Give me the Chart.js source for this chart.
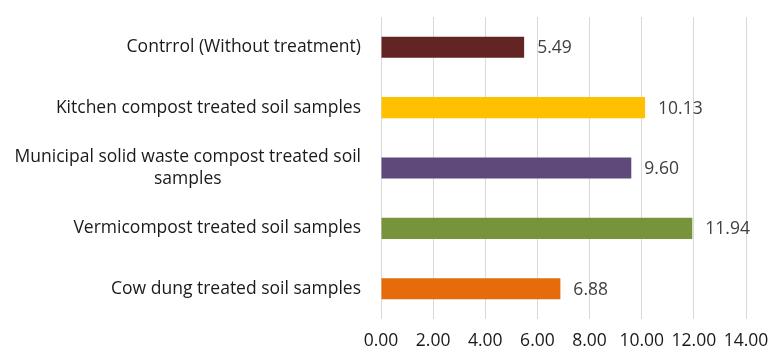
<!DOCTYPE html>
<html>
<head>
<meta charset="utf-8">
<script src="https://cdn.jsdelivr.net/npm/chart.js@4/dist/chart.umd.min.js"></script>
<style>
  html, body { margin: 0; padding: 0; background: #fff; }
  #wrap { width: 770px; height: 352px; position: relative; }
</style>
</head>
<body>
<div id="wrap"><canvas id="c"></canvas></div>
<script>
const categories = [
  'Contrrol (Without treatment)',
  'Kitchen compost treated soil samples',
  ['Municipal solid waste compost treated soil', 'samples'],
  'Vermicompost treated soil samples',
  'Cow dung treated soil samples',
];
const values = [5.49, 10.13, 9.60, 11.94, 6.88];
const barColors = ['#632523', '#FFC000', '#5F497A', '#77933C', '#E46C0A'];
const xTicks = [0, 2, 4, 6, 8, 10, 12, 14];

const FONT = '"Open Sans", Lato, sans-serif';
const FSIZE = 17.5;
const TEXT = '#404040';

// category labels: each wrapped block is centred on itself, block right-aligned to the axis
const catLabels = {
  id: 'catLabels',
  afterDraw(chart) {
    const { ctx, chartArea, scales: { y } } = chart;
    ctx.save();
    ctx.font = FSIZE + 'px ' + FONT;
    ctx.fillStyle = '#1a1a1a';
    ctx.textAlign = 'center';
    ctx.textBaseline = 'middle';
    categories.forEach((lab, i) => {
      const lines = Array.isArray(lab) ? lab : [lab];
      const w = Math.max(...lines.map(l => ctx.measureText(l).width));
      const cx = chartArea.left - 20 - w / 2;
      const cy = y.getPixelForValue(i);
      const lh = 22;
      lines.forEach((l, k) => {
        ctx.fillText(l, cx, cy + (k - (lines.length - 1) / 2) * lh);
      });
    });
    ctx.restore();
  }
};

// value text just past the end of each bar
const valueLabels = {
  id: 'valueLabels',
  afterDatasetsDraw(chart) {
    const { ctx } = chart;
    const meta = chart.getDatasetMeta(0);
    ctx.save();
    ctx.font = FSIZE + 'px ' + FONT;
    ctx.fillStyle = TEXT;
    ctx.textAlign = 'left';
    ctx.textBaseline = 'middle';
    meta.data.forEach((bar, i) => {
      ctx.fillText(values[i].toFixed(2), bar.x + 13, bar.y + 1);
    });
    ctx.restore();
  }
};

new Chart(document.getElementById('c'), {
  type: 'bar',
  data: {
    labels: categories,
    datasets: [{
      data: values,
      backgroundColor: barColors,
      borderWidth: 0,
      barPercentage: 0.7,
      categoryPercentage: 0.5,
    }],
  },
  options: {
    indexAxis: 'y',
    responsive: true,
    maintainAspectRatio: false,
    animation: false,
    layout: { padding: { top: 17, right: 24, bottom: 0, left: 0 } },
    plugins: { legend: { display: false }, tooltip: { enabled: false } },
    scales: {
      x: {
        min: 0,
        max: 14,
        afterBuildTicks: axis => { axis.ticks = xTicks.map(v => ({ value: v })); },
        afterFit: axis => {
          axis.height = 33;
          axis.paddingLeft = 0;
          axis.paddingRight = 0;
        },
        grid: { color: '#d9d9d9', lineWidth: 1, drawTicks: false },
        border: { display: false },
        ticks: {
          padding: 12,
          maxRotation: 0,
          color: '#1a1a1a',
          font: { family: FONT, size: FSIZE },
          callback: v => Number(v).toFixed(2),
        },
      },
      y: {
        grid: { display: false },
        border: { display: false },
        ticks: { display: false },
        afterFit: axis => { axis.width = 381; },
      },
    },
  },
  plugins: [catLabels, valueLabels],
});
</script>
</body>
</html>
